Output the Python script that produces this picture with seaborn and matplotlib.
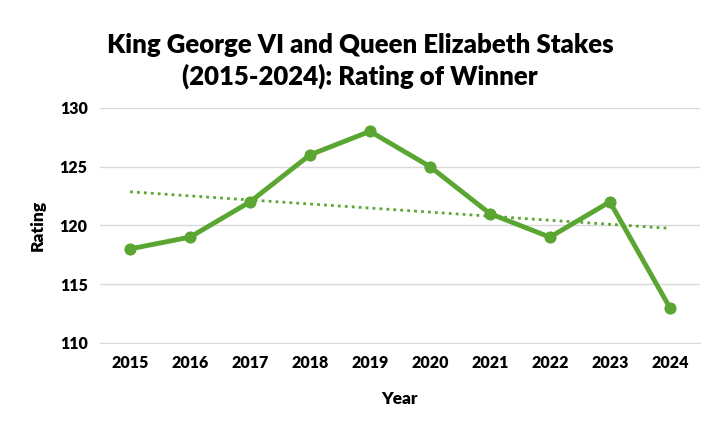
import numpy as np
import pandas as pd
import matplotlib
matplotlib.use("Agg")
import matplotlib.pyplot as plt
import seaborn as sns

# chart data
years = [2015, 2016, 2017, 2018, 2019, 2020, 2021, 2022, 2023, 2024]
ratings = [118, 119, 122, 126, 128, 125, 121, 119, 122, 113]

df = pd.DataFrame({"Year": years, "Rating": ratings})
green = "#5BA632"

plt.rcParams["font.family"] = "Lato"
fig = plt.figure(figsize=(7.2, 4.33), dpi=100)
ax = fig.add_axes([0.139, 0.208, 0.833, 0.543])

sns.lineplot(data=df, x="Year", y="Rating", color=green, linewidth=3.5,
             marker="o", markersize=8, markeredgecolor=green, ax=ax, zorder=3)

# linear trendline
slope, intercept = np.polyfit(df["Year"], df["Rating"], 1)
ax.plot(df["Year"], slope * df["Year"] + intercept, color=green,
        linestyle=(0, (1, 1.5)), linewidth=2, zorder=2)

ax.set_xlim(2014.5, 2024.5)
ax.set_ylim(110, 130)
ax.set_yticks(range(110, 131, 5))
ax.set_xticks(years)
ax.grid(axis="y", color="#d9d9d9", linewidth=1)
ax.set_axisbelow(True)
for s in ["top", "right", "left"]:
    ax.spines[s].set_visible(False)
ax.spines["bottom"].set_color("#d9d9d9")
ax.tick_params(length=0, labelsize=11.5, pad=9)
for lbl in ax.get_xticklabels() + ax.get_yticklabels():
    lbl.set_fontweight("heavy")
ax.set_xlabel("Year", fontsize=12.5, fontweight="heavy", labelpad=14)
ax.set_ylabel("Rating", fontsize=12.5, fontweight="heavy", labelpad=10)

fig.text(0.5, 0.86, "King George VI and Queen Elizabeth Stakes\n(2015-2024): Rating of Winner",
         ha="center", va="center", fontsize=18.5, fontweight="heavy", linespacing=1.3)

fig.savefig("out.png", dpi=100)
